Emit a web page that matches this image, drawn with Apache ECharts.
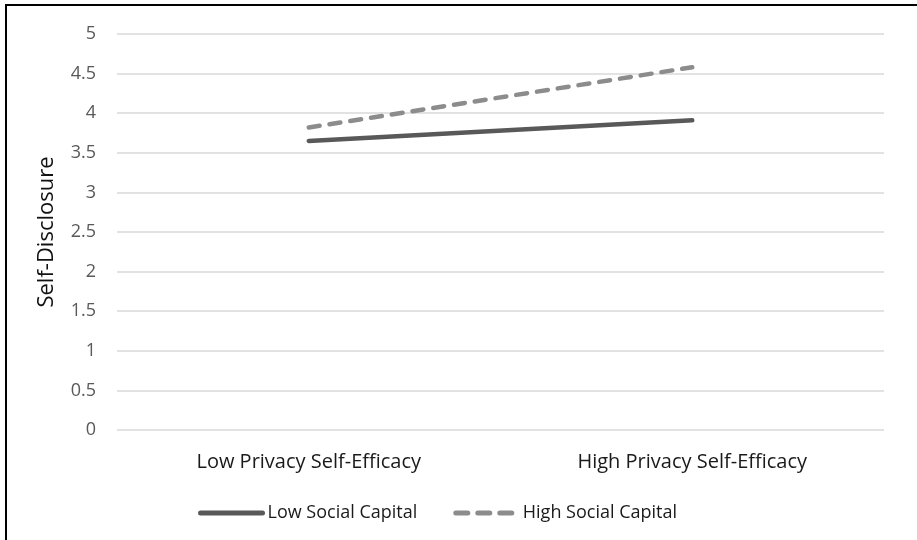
<!DOCTYPE html>
<html><head><meta charset="utf-8">
<script src="https://cdn.jsdelivr.net/npm/echarts@6/dist/echarts.min.js"></script>
<style>
html,body{margin:0;padding:0;background:#fff;}
#frame{position:absolute;left:5px;top:4px;width:930px;height:560px;border-left:2px solid #000;border-top:2px solid #000;}
#c{position:absolute;left:0;top:0;width:917px;height:540px;}
</style></head>
<body>
<div id="frame"></div>
<div id="c"></div>
<script>
const categories = ['Low Privacy Self-Efficacy', 'High Privacy Self-Efficacy'];
const lowSocialCapital = [3.65, 3.91];
const highSocialCapital = [3.82, 4.58];
const yTicks = [0, 0.5, 1, 1.5, 2, 2.5, 3, 3.5, 4, 4.5, 5];

const chart = echarts.init(document.getElementById('c'));
const font = '"Open Sans", sans-serif';
chart.setOption({
  animation: false,
  textStyle: { fontFamily: font },
  grid: { left: 117, right: 33, top: 34, bottom: 110 },
  legend: {
    top: 499,
    left: 193,
    itemWidth: 62,
    itemHeight: 14,
    itemGap: 36,
    itemStyle: { opacity: 0 },
    textStyle: { fontFamily: font, fontSize: 18, color: '#1a1a1a' },
    data: [
      { name: 'Low Social Capital', lineStyle: { width: 5, color: '#595959', cap: 'round' } },
      { name: 'High Social Capital', lineStyle: { width: 5, color: '#8c8c8c', type: [12, 10], cap: 'round' } }
    ]
  },
  xAxis: {
    type: 'category',
    data: categories,
    boundaryGap: true,
    axisLine: { show: false },
    axisTick: { show: false },
    axisLabel: { fontFamily: font, fontSize: 20, color: '#1a1a1a', margin: 22 }
  },
  yAxis: {
    type: 'value',
    min: yTicks[0],
    max: yTicks[yTicks.length - 1],
    interval: 0.5,
    name: 'Self-Disclosure',
    nameLocation: 'middle',
    nameGap: 59,
    nameRotate: 90,
    nameTextStyle: { fontFamily: font, fontSize: 22, color: '#111' },
    axisLine: { show: false },
    axisTick: { show: false },
    axisLabel: { fontFamily: font, fontSize: 18, color: '#595959', margin: 21 },
    splitLine: { lineStyle: { color: '#d9d9d9', width: 1.5 } }
  },
  series: [
    {
      name: 'Low Social Capital',
      type: 'line',
      data: lowSocialCapital,
      symbol: 'none',
      color: '#595959',
      lineStyle: { color: '#595959', width: 4.5, cap: 'round' }
    },
    {
      name: 'High Social Capital',
      type: 'line',
      data: highSocialCapital,
      symbol: 'none',
      color: '#8c8c8c',
      lineStyle: { color: '#8c8c8c', width: 4.5, type: [11, 10], cap: 'round' }
    }
  ]
});
</script>
</body></html>
